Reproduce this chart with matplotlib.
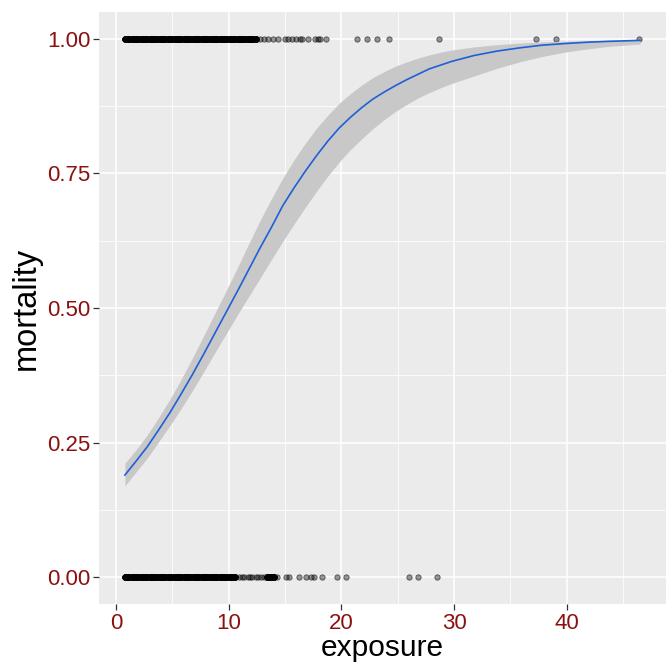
"""
Logistic fit of mortality vs exposure, ggplot-like look.

Output: out.png
"""
import matplotlib.pyplot as plt
import numpy as np

# observed exposures, mortality = 1 (dense part carries counts)
dead_dense = [
    0.8, 1.0, 1.2, 1.4, 1.6, 1.8, 2.0, 2.2, 2.4, 2.6, 2.8, 3.0, 3.2, 3.4,
    3.6, 3.8, 4.0, 4.2, 4.4, 4.6, 4.8, 5.0, 5.2, 5.4, 5.6, 5.8, 6.0, 6.2,
    6.4, 6.6, 6.8, 7.0, 7.2, 7.4, 7.6, 7.8, 8.0, 8.2, 8.4, 8.6, 8.8, 9.0,
    9.2, 9.4, 9.6, 9.8, 10.0, 10.2, 10.4, 10.6, 10.8, 11.0, 11.2, 11.4,
    11.6, 11.8, 12.0, 12.2, 12.4,
]
dead_sparse = [
    12.8, 13.1, 13.5, 13.9, 14.4, 15.0, 15.3, 15.6, 16.0, 16.3, 16.5, 17.0,
    17.7, 17.9, 18.1, 18.6, 21.4, 22.3, 23.2, 24.2, 28.7, 37.3, 39.0, 46.4,
]

# observed exposures, mortality = 0
alive_dense = [
    0.8, 1.0, 1.2, 1.4, 1.6, 1.8, 2.0, 2.2, 2.4, 2.6, 2.8, 3.0, 3.2, 3.4,
    3.6, 3.8, 4.0, 4.2, 4.4, 4.6, 4.8, 5.0, 5.2, 5.4, 5.6, 5.8, 6.0, 6.2,
    6.4, 6.6, 6.8, 7.0, 7.2, 7.4, 7.6, 7.8, 8.0, 8.2, 8.4, 8.6, 8.8, 9.0,
    9.2, 9.4, 9.6, 9.8, 10.0, 10.2, 10.4, 10.6,
    13.4, 13.5, 13.6, 13.7, 13.8, 13.9, 14.0,
]
alive_sparse = [
    10.9, 11.2, 11.4, 11.7, 11.9, 12.1, 12.4, 12.6, 12.9, 13.1,
    14.3, 15.1, 15.4, 16.2, 16.9, 17.3, 17.6, 18.3, 19.6, 20.4,
    26.0, 26.8, 28.5,
]
dense_count = 8

# fitted curve and 95% band
fit_x = [
    0.8, 1.8, 2.8, 3.8, 4.8, 5.8, 6.8, 7.8, 8.8, 9.8, 10.8, 11.8, 12.8,
    13.8, 14.8, 15.8, 16.8, 17.8, 18.8, 19.8, 20.8, 21.8, 22.8, 23.8, 24.8,
    25.8, 26.8, 27.8, 28.8, 29.8, 31.8, 33.8, 35.8, 37.8, 39.8, 41.8, 43.8,
    46.5,
]
fit_y = [
    0.190, 0.216, 0.243, 0.274, 0.306, 0.341, 0.377, 0.415, 0.454, 0.493,
    0.532, 0.572, 0.612, 0.650, 0.690, 0.723, 0.754, 0.783, 0.810, 0.834,
    0.854, 0.872, 0.888, 0.901, 0.913, 0.924, 0.934, 0.944, 0.951, 0.958,
    0.969, 0.977, 0.983, 0.988, 0.991, 0.9935, 0.9952, 0.9969,
]
fit_lo = [
    0.170, 0.196, 0.222, 0.252, 0.282, 0.314, 0.347, 0.382, 0.418, 0.453,
    0.488, 0.522, 0.556, 0.590, 0.624, 0.656, 0.687, 0.717, 0.745, 0.771,
    0.794, 0.814, 0.833, 0.850, 0.865, 0.878, 0.890, 0.900, 0.909, 0.917,
    0.931, 0.945, 0.957, 0.967, 0.975, 0.981, 0.986, 0.990,
]
fit_hi = [
    0.212, 0.237, 0.265, 0.297, 0.331, 0.368, 0.408, 0.449, 0.491, 0.533,
    0.576, 0.620, 0.663, 0.703, 0.741, 0.775, 0.806, 0.834, 0.858, 0.880,
    0.898, 0.914, 0.928, 0.939, 0.949, 0.957, 0.964, 0.970, 0.975, 0.979,
    0.985, 0.989, 0.992, 0.994, 0.9955, 0.9965, 0.9972, 0.998,
]

x_ticks = [0, 10, 20, 30, 40]
y_ticks = [0.00, 0.25, 0.50, 0.75, 1.00]

TICK_RED = "#8b1010"


def main() -> None:
    plt.rcParams["font.family"] = ["Liberation Sans", "DejaVu Sans"]
    fig = plt.figure(figsize=(6.67, 6.63), dpi=100)
    ax = fig.add_axes([0.1484, 0.0885, 0.8501, 0.8937])
    ax.set_facecolor("#ebebeb")

    # grid
    ax.set_xticks(x_ticks)
    ax.set_yticks(y_ticks)
    ax.set_xticks([5, 15, 25, 35, 45], minor=True)
    ax.set_yticks([0.125, 0.375, 0.625, 0.875], minor=True)
    ax.grid(which="major", color="white", linewidth=1.1)
    ax.grid(which="minor", color="white", linewidth=0.55)
    ax.set_axisbelow(True)
    for sp in ax.spines.values():
        sp.set_visible(False)

    # points
    pt = dict(s=15, facecolor=(0, 0, 0, 0.4), edgecolor=(0, 0, 0, 0.55),
              linewidths=0.6, zorder=2)
    ax.scatter(np.repeat(dead_dense, dense_count),
               np.ones(len(dead_dense) * dense_count), **pt)
    ax.scatter(dead_sparse, np.ones(len(dead_sparse)), **pt)
    ax.scatter(np.repeat(alive_dense, dense_count),
               np.zeros(len(alive_dense) * dense_count), **pt)
    ax.scatter(alive_sparse, np.zeros(len(alive_sparse)), **pt)

    # fit + band
    ax.fill_between(fit_x, fit_lo, fit_hi, color="#c8c8c8", linewidth=0, zorder=3)
    ax.plot(fit_x, fit_y, color="#1f5fd8", linewidth=1.2, zorder=4)

    ax.set_xlim(-1.5, 48.8)
    ax.set_ylim(-0.05, 1.05)
    ax.set_xticklabels([str(v) for v in x_ticks])
    ax.set_yticklabels([f"{v:.2f}" for v in y_ticks])
    ax.tick_params(which="major", length=4, width=0.9, color="#333333",
                   labelsize=16, labelcolor=TICK_RED, pad=2)
    ax.tick_params(which="minor", length=0)

    ax.set_xlabel("exposure", fontsize=21.5, va="bottom")
    ax.xaxis.set_label_coords(0.5, -0.098)
    ax.set_ylabel("mortality", fontsize=23.5, labelpad=4)

    fig.savefig("out.png", dpi=100)
    plt.close(fig)


if __name__ == "__main__":
    main()
